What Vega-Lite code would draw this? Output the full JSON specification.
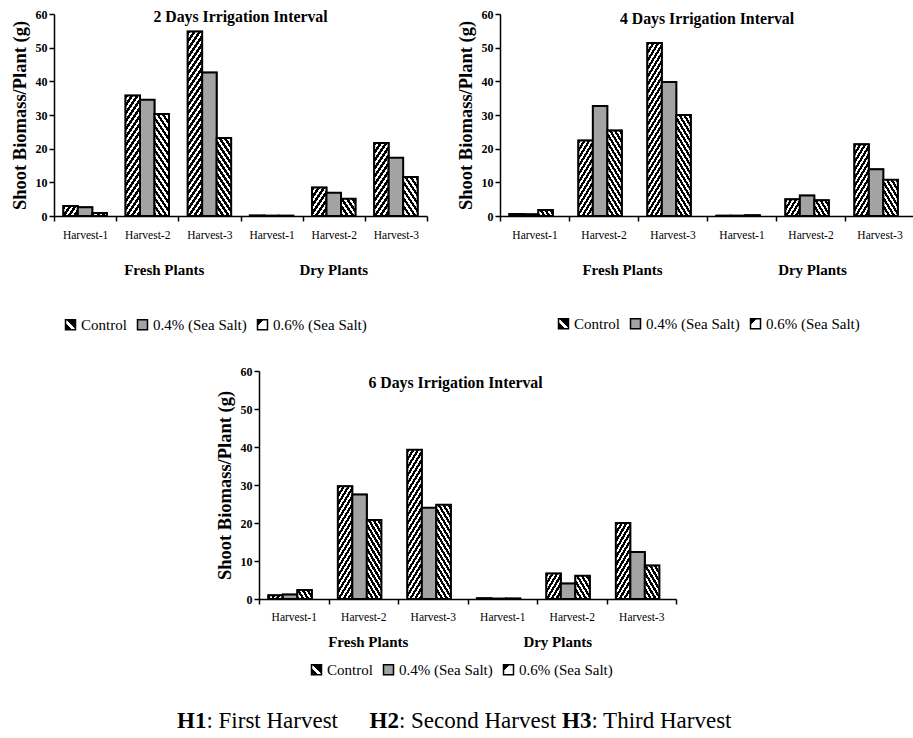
{
  "$schema": "https://vega.github.io/schema/vega-lite/v6.json",
  "background": "white",
  "padding": {"left": 10, "top": 8, "right": 0, "bottom": 0},
  "config": {
    "view": {"stroke": null},
    "font": "Liberation Serif",
    "axis": {"domainColor": "#000", "domainWidth": 1.5, "tickColor": "#000", "tickWidth": 1.5, "tickSize": 5, "labelColor": "#000", "titleColor": "#000", "grid": false, "labelFont": "Liberation Serif", "titleFont": "Liberation Serif"},
    "legend": {"orient": "none", "direction": "horizontal", "symbolType": "square", "symbolSize": 100, "symbolStrokeColor": "#000", "symbolStrokeWidth": 1.5, "labelFont": "Liberation Serif", "labelFontSize": 15, "labelColor": "#000", "columnPadding": 7, "labelOffset": 3},
    "title": {"font": "Liberation Serif", "fontSize": 15.8, "fontWeight": "bold", "color": "#000", "offset": -16, "anchor": "middle", "frame": "group"}
  },
  "resolve": {"scale": {"fill": "independent"}, "legend": {"fill": "independent"}},
  "params": [
    {"name": "legA", "value": {"gradient": "linear", "x1": 0, "y1": 1, "x2": 1, "y2": 0, "stops": [{"offset":0,"color":"#000"},{"offset":0.35,"color":"#000"},{"offset":0.35,"color":"#fff"},{"offset":0.55,"color":"#fff"},{"offset":0.55,"color":"#000"},{"offset":1,"color":"#000"}]}},
    {"name": "legB", "value": {"gradient": "linear", "x1": 0, "y1": 0, "x2": 1, "y2": 1, "stops": [{"offset":0,"color":"#000"},{"offset":0.32,"color":"#000"},{"offset":0.32,"color":"#fff"},{"offset":1,"color":"#fff"}]}},
    {"name": "stripes", "value": [
{"offset":0,"color":"#000"},{"offset":0.01833,"color":"#000"},{"offset":0.01833,"color":"#fff"},{"offset":0.03333,"color":"#fff"},
{"offset":0.03333,"color":"#000"},{"offset":0.05167,"color":"#000"},{"offset":0.05167,"color":"#fff"},{"offset":0.06667,"color":"#fff"},
{"offset":0.06667,"color":"#000"},{"offset":0.085,"color":"#000"},{"offset":0.085,"color":"#fff"},{"offset":0.1,"color":"#fff"},
{"offset":0.1,"color":"#000"},{"offset":0.11833,"color":"#000"},{"offset":0.11833,"color":"#fff"},{"offset":0.13333,"color":"#fff"},
{"offset":0.13333,"color":"#000"},{"offset":0.15167,"color":"#000"},{"offset":0.15167,"color":"#fff"},{"offset":0.16667,"color":"#fff"},
{"offset":0.16667,"color":"#000"},{"offset":0.185,"color":"#000"},{"offset":0.185,"color":"#fff"},{"offset":0.2,"color":"#fff"},
{"offset":0.2,"color":"#000"},{"offset":0.21833,"color":"#000"},{"offset":0.21833,"color":"#fff"},{"offset":0.23333,"color":"#fff"},
{"offset":0.23333,"color":"#000"},{"offset":0.25167,"color":"#000"},{"offset":0.25167,"color":"#fff"},{"offset":0.26667,"color":"#fff"},
{"offset":0.26667,"color":"#000"},{"offset":0.285,"color":"#000"},{"offset":0.285,"color":"#fff"},{"offset":0.3,"color":"#fff"},
{"offset":0.3,"color":"#000"},{"offset":0.31833,"color":"#000"},{"offset":0.31833,"color":"#fff"},{"offset":0.33333,"color":"#fff"},
{"offset":0.33333,"color":"#000"},{"offset":0.35167,"color":"#000"},{"offset":0.35167,"color":"#fff"},{"offset":0.36667,"color":"#fff"},
{"offset":0.36667,"color":"#000"},{"offset":0.385,"color":"#000"},{"offset":0.385,"color":"#fff"},{"offset":0.4,"color":"#fff"},
{"offset":0.4,"color":"#000"},{"offset":0.41833,"color":"#000"},{"offset":0.41833,"color":"#fff"},{"offset":0.43333,"color":"#fff"},
{"offset":0.43333,"color":"#000"},{"offset":0.45167,"color":"#000"},{"offset":0.45167,"color":"#fff"},{"offset":0.46667,"color":"#fff"},
{"offset":0.46667,"color":"#000"},{"offset":0.485,"color":"#000"},{"offset":0.485,"color":"#fff"},{"offset":0.5,"color":"#fff"},
{"offset":0.5,"color":"#000"},{"offset":0.51833,"color":"#000"},{"offset":0.51833,"color":"#fff"},{"offset":0.53333,"color":"#fff"},
{"offset":0.53333,"color":"#000"},{"offset":0.55167,"color":"#000"},{"offset":0.55167,"color":"#fff"},{"offset":0.56667,"color":"#fff"},
{"offset":0.56667,"color":"#000"},{"offset":0.585,"color":"#000"},{"offset":0.585,"color":"#fff"},{"offset":0.6,"color":"#fff"},
{"offset":0.6,"color":"#000"},{"offset":0.61833,"color":"#000"},{"offset":0.61833,"color":"#fff"},{"offset":0.63333,"color":"#fff"},
{"offset":0.63333,"color":"#000"},{"offset":0.65167,"color":"#000"},{"offset":0.65167,"color":"#fff"},{"offset":0.66667,"color":"#fff"},
{"offset":0.66667,"color":"#000"},{"offset":0.685,"color":"#000"},{"offset":0.685,"color":"#fff"},{"offset":0.7,"color":"#fff"},
{"offset":0.7,"color":"#000"},{"offset":0.71833,"color":"#000"},{"offset":0.71833,"color":"#fff"},{"offset":0.73333,"color":"#fff"},
{"offset":0.73333,"color":"#000"},{"offset":0.75167,"color":"#000"},{"offset":0.75167,"color":"#fff"},{"offset":0.76667,"color":"#fff"},
{"offset":0.76667,"color":"#000"},{"offset":0.785,"color":"#000"},{"offset":0.785,"color":"#fff"},{"offset":0.8,"color":"#fff"},
{"offset":0.8,"color":"#000"},{"offset":0.81833,"color":"#000"},{"offset":0.81833,"color":"#fff"},{"offset":0.83333,"color":"#fff"},
{"offset":0.83333,"color":"#000"},{"offset":0.85167,"color":"#000"},{"offset":0.85167,"color":"#fff"},{"offset":0.86667,"color":"#fff"},
{"offset":0.86667,"color":"#000"},{"offset":0.885,"color":"#000"},{"offset":0.885,"color":"#fff"},{"offset":0.9,"color":"#fff"},
{"offset":0.9,"color":"#000"},{"offset":0.91833,"color":"#000"},{"offset":0.91833,"color":"#fff"},{"offset":0.93333,"color":"#fff"},
{"offset":0.93333,"color":"#000"},{"offset":0.95167,"color":"#000"},{"offset":0.95167,"color":"#fff"},{"offset":0.96667,"color":"#fff"},
{"offset":0.96667,"color":"#000"},{"offset":0.985,"color":"#000"},{"offset":0.985,"color":"#fff"},{"offset":1,"color":"#fff"}
    ]}
  ],
  "datasets": {
    "bio": [
      {"interval": 2, "slot": "F1", "treatment": "Control", "biomass": 3.0},
      {"interval": 2, "slot": "F1", "treatment": "0.4% (Sea Salt)", "biomass": 2.6},
      {"interval": 2, "slot": "F1", "treatment": "0.6% (Sea Salt)", "biomass": 0.9},
      {"interval": 2, "slot": "F2", "treatment": "Control", "biomass": 35.8},
      {"interval": 2, "slot": "F2", "treatment": "0.4% (Sea Salt)", "biomass": 34.5},
      {"interval": 2, "slot": "F2", "treatment": "0.6% (Sea Salt)", "biomass": 30.3},
      {"interval": 2, "slot": "F3", "treatment": "Control", "biomass": 54.8},
      {"interval": 2, "slot": "F3", "treatment": "0.4% (Sea Salt)", "biomass": 42.6},
      {"interval": 2, "slot": "F3", "treatment": "0.6% (Sea Salt)", "biomass": 23.2},
      {"interval": 2, "slot": "D1", "treatment": "Control", "biomass": 0.15},
      {"interval": 2, "slot": "D1", "treatment": "0.4% (Sea Salt)", "biomass": 0.1},
      {"interval": 2, "slot": "D1", "treatment": "0.6% (Sea Salt)", "biomass": 0.1},
      {"interval": 2, "slot": "D2", "treatment": "Control", "biomass": 8.5},
      {"interval": 2, "slot": "D2", "treatment": "0.4% (Sea Salt)", "biomass": 6.9},
      {"interval": 2, "slot": "D2", "treatment": "0.6% (Sea Salt)", "biomass": 5.1},
      {"interval": 2, "slot": "D3", "treatment": "Control", "biomass": 21.7},
      {"interval": 2, "slot": "D3", "treatment": "0.4% (Sea Salt)", "biomass": 17.3},
      {"interval": 2, "slot": "D3", "treatment": "0.6% (Sea Salt)", "biomass": 11.6},
      {"interval": 4, "slot": "F1", "treatment": "Control", "biomass": 0.6},
      {"interval": 4, "slot": "F1", "treatment": "0.4% (Sea Salt)", "biomass": 0.5},
      {"interval": 4, "slot": "F1", "treatment": "0.6% (Sea Salt)", "biomass": 1.8},
      {"interval": 4, "slot": "F2", "treatment": "Control", "biomass": 22.4},
      {"interval": 4, "slot": "F2", "treatment": "0.4% (Sea Salt)", "biomass": 32.7},
      {"interval": 4, "slot": "F2", "treatment": "0.6% (Sea Salt)", "biomass": 25.4},
      {"interval": 4, "slot": "F3", "treatment": "Control", "biomass": 51.4},
      {"interval": 4, "slot": "F3", "treatment": "0.4% (Sea Salt)", "biomass": 39.8},
      {"interval": 4, "slot": "F3", "treatment": "0.6% (Sea Salt)", "biomass": 30.0},
      {"interval": 4, "slot": "D1", "treatment": "Control", "biomass": 0.1},
      {"interval": 4, "slot": "D1", "treatment": "0.4% (Sea Salt)", "biomass": 0.1},
      {"interval": 4, "slot": "D1", "treatment": "0.6% (Sea Salt)", "biomass": 0.2},
      {"interval": 4, "slot": "D2", "treatment": "Control", "biomass": 5.0},
      {"interval": 4, "slot": "D2", "treatment": "0.4% (Sea Salt)", "biomass": 6.1},
      {"interval": 4, "slot": "D2", "treatment": "0.6% (Sea Salt)", "biomass": 4.7},
      {"interval": 4, "slot": "D3", "treatment": "Control", "biomass": 21.3},
      {"interval": 4, "slot": "D3", "treatment": "0.4% (Sea Salt)", "biomass": 13.9},
      {"interval": 4, "slot": "D3", "treatment": "0.6% (Sea Salt)", "biomass": 10.8},
      {"interval": 6, "slot": "F1", "treatment": "Control", "biomass": 1.0},
      {"interval": 6, "slot": "F1", "treatment": "0.4% (Sea Salt)", "biomass": 1.2},
      {"interval": 6, "slot": "F1", "treatment": "0.6% (Sea Salt)", "biomass": 2.4},
      {"interval": 6, "slot": "F2", "treatment": "Control", "biomass": 29.7},
      {"interval": 6, "slot": "F2", "treatment": "0.4% (Sea Salt)", "biomass": 27.5},
      {"interval": 6, "slot": "F2", "treatment": "0.6% (Sea Salt)", "biomass": 20.8},
      {"interval": 6, "slot": "F3", "treatment": "Control", "biomass": 39.3},
      {"interval": 6, "slot": "F3", "treatment": "0.4% (Sea Salt)", "biomass": 24.0},
      {"interval": 6, "slot": "F3", "treatment": "0.6% (Sea Salt)", "biomass": 24.8},
      {"interval": 6, "slot": "D1", "treatment": "Control", "biomass": 0.2},
      {"interval": 6, "slot": "D1", "treatment": "0.4% (Sea Salt)", "biomass": 0.1},
      {"interval": 6, "slot": "D1", "treatment": "0.6% (Sea Salt)", "biomass": 0.1},
      {"interval": 6, "slot": "D2", "treatment": "Control", "biomass": 6.7},
      {"interval": 6, "slot": "D2", "treatment": "0.4% (Sea Salt)", "biomass": 4.1},
      {"interval": 6, "slot": "D2", "treatment": "0.6% (Sea Salt)", "biomass": 6.1},
      {"interval": 6, "slot": "D3", "treatment": "Control", "biomass": 20.0},
      {"interval": 6, "slot": "D3", "treatment": "0.4% (Sea Salt)", "biomass": 12.4},
      {"interval": 6, "slot": "D3", "treatment": "0.6% (Sea Salt)", "biomass": 8.8}
    ]
  },
  "spacing": 32,
  "vconcat": [
    {
      "spacing": 28,
      "resolve": {"scale": {"fill": "independent"}, "legend": {"fill": "independent"}},
      "hconcat": [
        {
          "width": 373, "height": 202,
          "title": {"text": "2 Days Irrigation Interval", "offset": -18},
          "layer": [
            {
              "data": {"name": "bio"},
              "transform": [{"filter": "datum.interval == 2"}],
              "mark": {"type": "bar", "stroke": "#000", "strokeWidth": 1.5},
              "encoding": {
                "x": {"field": "slot", "type": "nominal", "title": null, "scale": {"domain": ["F1","F2","F3","D1","D2","D3"], "paddingInner": 0, "paddingOuter": 0}, "axis": {"labelExpr": "datum.value ? 'Harvest-' + substring(datum.value, 1, 2) : ''", "labelAngle": 0, "labelFontSize": 11.5, "labelPadding": 8, "tickBand": "extent"}},
                "xOffset": {"field": "treatment", "type": "nominal", "scale": {"domain": ["Control","0.4% (Sea Salt)","0.6% (Sea Salt)"], "paddingInner": 0, "paddingOuter": 0.643}},
                "y": {"field": "biomass", "type": "quantitative", "title": "Shoot Biomass/Plant (g)", "scale": {"domain": [0, 60]}, "axis": {"values": [0,10,20,30,40,50,60], "labelFontSize": 12, "labelFontWeight": "bold", "labelPadding": 2, "titleFontSize": 18.5, "titleFontWeight": "bold", "titlePadding": 6}},
                "fill": {"field": "treatment", "type": "nominal", "scale": {"domain": ["Control","0.4% (Sea Salt)","0.6% (Sea Salt)"], "range": [{"expr": "legA"}, "#a3a3a3", {"expr": "legB"}]}, "legend": {"title": null, "legendX": 9, "legendY": 303, "labelFont": "Liberation Serif", "labelFontSize": 15, "encode": {"labels": {"update": {"font": {"value": "Liberation Serif"}}}}}}
              }
            },
            {
              "data": {"name": "bio"},
              "transform": [{"filter": "datum.interval == 2"}],
              "mark": {"type": "bar", "stroke": "#000", "strokeWidth": 2, "fill": {"expr": "datum.treatment == '0.4% (Sea Salt)' ? '#a3a3a3' : {gradient: 'linear', x1: 0, y1: datum.treatment == 'Control' ? 0 : 1, x2: 21.75 * 240 / (473.06 + pow(datum.biomass * 3.3667, 2)), y2: datum.treatment == 'Control' ? datum.biomass * 3.3667 * 240 / (473.06 + pow(datum.biomass * 3.3667, 2)) : 1 - datum.biomass * 3.3667 * 240 / (473.06 + pow(datum.biomass * 3.3667, 2)), stops: stripes}"}},
              "encoding": {
                "x": {"field": "slot", "type": "nominal", "title": null},
                "xOffset": {"field": "treatment", "type": "nominal"},
                "y": {"field": "biomass", "type": "quantitative", "title": "Shoot Biomass/Plant (g)", "axis": {"values": [0,10,20,30,40,50,60], "labelFontSize": 12, "labelFontWeight": "bold", "labelPadding": 2, "titleFontSize": 18.5, "titleFontWeight": "bold", "titlePadding": 6}}
              }
            },
            {
              "data": {"values": [{"slot": "F2", "label": "Fresh Plants"}, {"slot": "D2", "label": "Dry Plants"}]},
              "mark": {"type": "text", "font": "Liberation Serif", "fontSize": 15, "fontWeight": "bold", "color": "#000", "baseline": "middle", "dy": 54, "dx": {"expr": "datum.label == 'Fresh Plants' ? 17 : 0"}},
              "encoding": {
                "x": {"field": "slot", "type": "nominal", "title": null},
                "y": {"datum": 0, "type": "quantitative", "title": "Shoot Biomass/Plant (g)", "axis": {"values": [0,10,20,30,40,50,60], "labelFontSize": 12, "labelFontWeight": "bold", "labelPadding": 2, "titleFontSize": 18.5, "titleFontWeight": "bold", "titlePadding": 6}},
                "text": {"field": "label"}
              }
            }
          ]
        },
        {
          "width": 414, "height": 202,
          "title": {"text": "4 Days Irrigation Interval", "offset": -20},
          "layer": [
            {
              "data": {"name": "bio"},
              "transform": [{"filter": "datum.interval == 4"}],
              "mark": {"type": "bar", "stroke": "#000", "strokeWidth": 1.5},
              "encoding": {
                "x": {"field": "slot", "type": "nominal", "title": null, "scale": {"domain": ["F1","F2","F3","D1","D2","D3"], "paddingInner": 0, "paddingOuter": 0}, "axis": {"labelExpr": "datum.value ? 'Harvest-' + substring(datum.value, 1, 2) : ''", "labelAngle": 0, "labelFontSize": 11.5, "labelPadding": 8, "tickBand": "extent"}},
                "xOffset": {"field": "treatment", "type": "nominal", "scale": {"domain": ["Control","0.4% (Sea Salt)","0.6% (Sea Salt)"], "paddingInner": 0, "paddingOuter": 0.643}},
                "y": {"field": "biomass", "type": "quantitative", "title": "Shoot Biomass/Plant (g)", "scale": {"domain": [0, 60]}, "axis": {"values": [0,10,20,30,40,50,60], "labelFontSize": 12, "labelFontWeight": "bold", "labelPadding": 2, "titleFontSize": 18.5, "titleFontWeight": "bold", "titlePadding": 6}},
                "fill": {"field": "treatment", "type": "nominal", "scale": {"domain": ["Control","0.4% (Sea Salt)","0.6% (Sea Salt)"], "range": [{"expr": "legA"}, "#a3a3a3", {"expr": "legB"}]}, "legend": {"title": null, "legendX": 56, "legendY": 302, "labelFont": "Liberation Serif", "labelFontSize": 15, "encode": {"labels": {"update": {"font": {"value": "Liberation Serif"}}}}}}
              }
            },
            {
              "data": {"name": "bio"},
              "transform": [{"filter": "datum.interval == 4"}],
              "mark": {"type": "bar", "stroke": "#000", "strokeWidth": 2, "fill": {"expr": "datum.treatment == '0.4% (Sea Salt)' ? '#a3a3a3' : {gradient: 'linear', x1: 0, y1: datum.treatment == 'Control' ? 0 : 1, x2: 24.15 * 240 / (583.2 + pow(datum.biomass * 3.3667, 2)), y2: datum.treatment == 'Control' ? datum.biomass * 3.3667 * 240 / (583.2 + pow(datum.biomass * 3.3667, 2)) : 1 - datum.biomass * 3.3667 * 240 / (583.2 + pow(datum.biomass * 3.3667, 2)), stops: stripes}"}},
              "encoding": {
                "x": {"field": "slot", "type": "nominal", "title": null},
                "xOffset": {"field": "treatment", "type": "nominal"},
                "y": {"field": "biomass", "type": "quantitative", "title": "Shoot Biomass/Plant (g)", "axis": {"values": [0,10,20,30,40,50,60], "labelFontSize": 12, "labelFontWeight": "bold", "labelPadding": 2, "titleFontSize": 18.5, "titleFontWeight": "bold", "titlePadding": 6}}
              }
            },
            {
              "data": {"values": [{"slot": "F2", "label": "Fresh Plants"}, {"slot": "D2", "label": "Dry Plants"}]},
              "mark": {"type": "text", "font": "Liberation Serif", "fontSize": 15, "fontWeight": "bold", "color": "#000", "baseline": "middle", "dy": 54, "dx": {"expr": "datum.label == 'Fresh Plants' ? 19 : 2"}},
              "encoding": {
                "x": {"field": "slot", "type": "nominal", "title": null},
                "y": {"datum": 0, "type": "quantitative", "title": "Shoot Biomass/Plant (g)", "axis": {"values": [0,10,20,30,40,50,60], "labelFontSize": 12, "labelFontWeight": "bold", "labelPadding": 2, "titleFontSize": 18.5, "titleFontWeight": "bold", "titlePadding": 6}},
                "text": {"field": "label"}
              }
            }
          ]
        }
      ]
    },
    {
      "spacing": 0,
      "resolve": {"scale": {"fill": "independent"}, "legend": {"fill": "independent"}},
      "hconcat": [
        {"width": 161, "height": 10, "data": {"values": []}, "mark": "point", "encoding": {}},
        {
          "width": 417, "height": 228,
          "title": {"text": "6 Days Irrigation Interval", "offset": -27, "dx": -12},
          "layer": [
            {
              "data": {"name": "bio"},
              "transform": [{"filter": "datum.interval == 6"}],
              "mark": {"type": "bar", "stroke": "#000", "strokeWidth": 1.5},
              "encoding": {
                "x": {"field": "slot", "type": "nominal", "title": null, "scale": {"domain": ["F1","F2","F3","D1","D2","D3"], "paddingInner": 0, "paddingOuter": 0}, "axis": {"labelExpr": "datum.value ? 'Harvest-' + substring(datum.value, 1, 2) : ''", "labelAngle": 0, "labelFontSize": 11.5, "labelPadding": 7, "tickBand": "extent"}},
                "xOffset": {"field": "treatment", "type": "nominal", "scale": {"domain": ["Control","0.4% (Sea Salt)","0.6% (Sea Salt)"], "paddingInner": 0, "paddingOuter": 0.643}},
                "y": {"field": "biomass", "type": "quantitative", "title": "Shoot Biomass/Plant (g)", "scale": {"domain": [0, 60]}, "axis": {"values": [0,10,20,30,40,50,60], "labelFontSize": 12, "labelFontWeight": "bold", "labelPadding": 2, "titleFontSize": 18.5, "titleFontWeight": "bold", "titlePadding": 6}},
                "fill": {"field": "treatment", "type": "nominal", "scale": {"domain": ["Control","0.4% (Sea Salt)","0.6% (Sea Salt)"], "range": [{"expr": "legA"}, "#a3a3a3", {"expr": "legB"}]}, "legend": {"title": null, "legendX": 50, "legendY": 291, "labelFont": "Liberation Serif", "labelFontSize": 15, "encode": {"labels": {"update": {"font": {"value": "Liberation Serif"}}}}}}
              }
            },
            {
              "data": {"name": "bio"},
              "transform": [{"filter": "datum.interval == 6"}],
              "mark": {"type": "bar", "stroke": "#000", "strokeWidth": 2, "fill": {"expr": "datum.treatment == '0.4% (Sea Salt)' ? '#a3a3a3' : {gradient: 'linear', x1: 0, y1: datum.treatment == 'Control' ? 0 : 1, x2: 24.33 * 240 / (591.9 + pow(datum.biomass * 3.8, 2)), y2: datum.treatment == 'Control' ? datum.biomass * 3.8 * 240 / (591.9 + pow(datum.biomass * 3.8, 2)) : 1 - datum.biomass * 3.8 * 240 / (591.9 + pow(datum.biomass * 3.8, 2)), stops: stripes}"}},
              "encoding": {
                "x": {"field": "slot", "type": "nominal", "title": null},
                "xOffset": {"field": "treatment", "type": "nominal"},
                "y": {"field": "biomass", "type": "quantitative", "title": "Shoot Biomass/Plant (g)", "axis": {"values": [0,10,20,30,40,50,60], "labelFontSize": 12, "labelFontWeight": "bold", "labelPadding": 2, "titleFontSize": 18.5, "titleFontWeight": "bold", "titlePadding": 6}}
              }
            },
            {
              "data": {"values": [{"slot": "F2", "label": "Fresh Plants"}, {"slot": "D2", "label": "Dry Plants"}]},
              "mark": {"type": "text", "font": "Liberation Serif", "fontSize": 15, "fontWeight": "bold", "color": "#000", "baseline": "middle", "dy": 43, "dx": {"expr": "datum.label == 'Fresh Plants' ? 5 : -14"}},
              "encoding": {
                "x": {"field": "slot", "type": "nominal", "title": null},
                "y": {"datum": 0, "type": "quantitative", "title": "Shoot Biomass/Plant (g)", "axis": {"values": [0,10,20,30,40,50,60], "labelFontSize": 12, "labelFontWeight": "bold", "labelPadding": 2, "titleFontSize": 18.5, "titleFontWeight": "bold", "titlePadding": 6}},
                "text": {"field": "label"}
              }
            }
          ]
        }
      ]
    },
    {
      "width": 631, "height": 10,
      "data": {"values": [{"key": "H1", "desc": ": First Harvest"}, {"key": "H2", "desc": ": Second Harvest"}, {"key": "H3", "desc": ": Third Harvest"}]},
      "encoding": {"x": {"field": "key", "type": "nominal", "scale": {"type": "point", "padding": 0.639}, "axis": null}},
      "layer": [
        {"mark": {"type": "text", "align": "left", "baseline": "middle", "font": "Liberation Serif", "fontSize": 23, "fontWeight": "bold", "color": "#000"}, "encoding": {"text": {"field": "key"}}},
        {"mark": {"type": "text", "align": "left", "baseline": "middle", "dx": 29.4, "font": "Liberation Serif", "fontSize": 23, "color": "#000"}, "encoding": {"text": {"field": "desc"}}}
      ]
    }
  ]
}
